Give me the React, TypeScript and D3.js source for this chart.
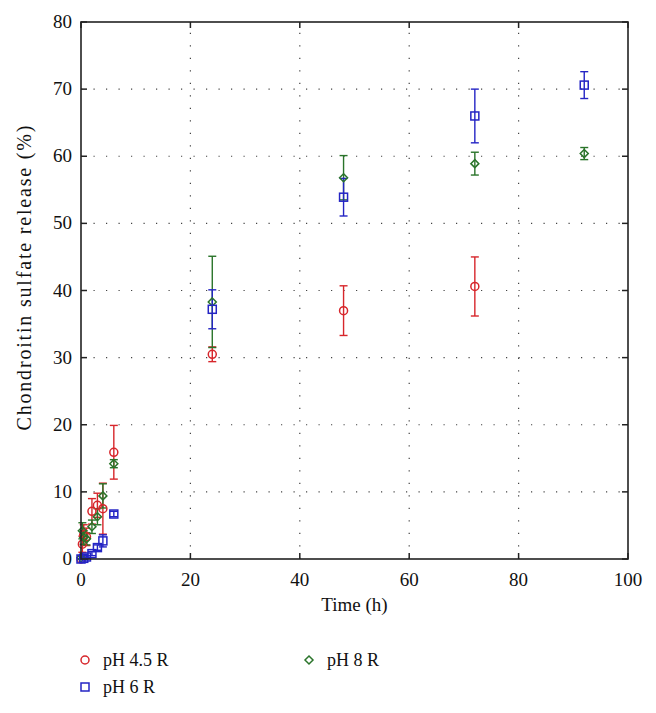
import React from "react";
import * as d3 from "d3";

const xTicks = [0, 20, 40, 60, 80, 100];
const yTicks = [0, 10, 20, 30, 40, 50, 60, 70, 80];

const timeRed = [0, 0.25, 0.5, 1, 2, 3, 4, 6, 24, 48, 72];
const valRed = [0, 2.2, 3.6, 3.3, 7.1, 8.0, 7.5, 15.9, 30.5, 37.0, 40.6];
const errRed = [0, 1.2, 1.5, 1.3, 1.9, 1.8, 3.8, 4.0, 1.1, 3.7, 4.4];

const timeBlue = [0, 0.5, 1, 2, 3, 4, 6, 24, 48, 72, 92];
const valBlue = [0, 0.1, 0.3, 0.8, 1.7, 2.7, 6.7, 37.2, 53.9, 66.0, 70.6];
const errBlue = [0, 0.1, 0.2, 0.3, 0.4, 0.9, 0.4, 2.9, 2.8, 4.0, 2.0];

const timeGreen = [0, 0.25, 0.5, 1, 2, 3, 4, 6, 24, 48, 72, 92];
const valGreen = [0.2, 4.2, 3.2, 3.0, 4.8, 6.3, 9.4, 14.2, 38.3, 56.8, 58.9, 60.4];
const errGreen = [0.2, 1.2, 1.0, 0.9, 1.0, 1.2, 1.8, 0.6, 6.8, 3.3, 1.7, 0.9];

const legendLabels = ["pH 4.5 R", "pH 6 R", "pH 8 R"];

const RED = "#d7262b";
const BLUE = "#2424c4";
const GREEN = "#2a742a";
const FONT = "'Liberation Serif', 'Times New Roman', serif";

export default function App() {
  const W = 656, H = 713;
  const left = 81, right = 628, top = 22, bottom = 559;
  const x = d3.scaleLinear().domain([0, 100]).range([left, right]);
  const y = d3.scaleLinear().domain([0, 80]).range([bottom, top]);
  const cap = 4;

  const errBars = (ts: number[], vs: number[], es: number[], color: string) =>
    ts.map((t, i) => {
      const cx = x(t);
      const y1 = y(vs[i] + es[i]);
      const y2 = y(Math.max(0, vs[i] - es[i]));
      return (
        <g key={i} stroke={color} strokeWidth={1.4}>
          <line x1={cx} x2={cx} y1={y1} y2={y2} />
          <line x1={cx - cap} x2={cx + cap} y1={y1} y2={y1} />
          <line x1={cx - cap} x2={cx + cap} y1={y2} y2={y2} />
        </g>
      );
    });

  const circle = (cx: number, cy: number, key: any) => (
    <circle key={key} cx={cx} cy={cy} r={4} fill="none" stroke={RED} strokeWidth={1.5} />
  );
  const square = (cx: number, cy: number, key: any) => (
    <rect key={key} x={cx - 4} y={cy - 4} width={8} height={8} fill="none" stroke={BLUE} strokeWidth={1.5} />
  );
  const diamond = (cx: number, cy: number, key: any) => (
    <path key={key} d={`M${cx},${cy - 4}L${cx + 4},${cy}L${cx},${cy + 4}L${cx - 4},${cy}Z`} fill="none" stroke={GREEN} strokeWidth={1.5} />
  );

  return (
    <svg width={W} height={H} style={{ position: "absolute", left: 0, top: 0, background: "#fff" }} fontFamily={FONT}>
      <rect width={W} height={H} fill="#fff" />
      {/* grid */}
      <g stroke="#444" strokeWidth={1.2} strokeDasharray="1.2 11.3">
        {xTicks.slice(1, -1).map((t) => (
          <line key={"gx" + t} x1={x(t)} x2={x(t)} y1={bottom} y2={top} />
        ))}
        {yTicks.slice(1, -1).map((t) => (
          <line key={"gy" + t} x1={left} x2={right} y1={y(t)} y2={y(t)} />
        ))}
      </g>
      {/* ticks */}
      <g stroke="#222" strokeWidth={1.5}>
        {xTicks.map((t) => (
          <g key={"tx" + t}>
            <line x1={x(t)} x2={x(t)} y1={bottom} y2={bottom - 6} />
            <line x1={x(t)} x2={x(t)} y1={top} y2={top + 6} />
          </g>
        ))}
        {yTicks.map((t) => (
          <g key={"ty" + t}>
            <line x1={left} x2={left + 6} y1={y(t)} y2={y(t)} />
            <line x1={right} x2={right - 6} y1={y(t)} y2={y(t)} />
          </g>
        ))}
      </g>
      {/* tick labels */}
      <g fontSize={19} fill="#111">
        {xTicks.map((t) => (
          <text key={"lx" + t} x={x(t)} y={586} textAnchor="middle">{t}</text>
        ))}
        {yTicks.map((t) => (
          <text key={"ly" + t} x={72} y={y(t) + 6} textAnchor="end">{t}</text>
        ))}
      </g>
      <text x={(left + right) / 2} y={611} textAnchor="middle" fontSize={19} fill="#111">Time (h)</text>
      <text transform={`translate(31,278) rotate(-90)`} textAnchor="middle" fontSize={20} fill="#111"
        textLength={305} lengthAdjust="spacing">
        Chondroitin sulfate release (%)
      </text>
      {/* data */}
      {errBars(timeRed, valRed, errRed, RED)}
      {errBars(timeGreen, valGreen, errGreen, GREEN)}
      {errBars(timeBlue, valBlue, errBlue, BLUE)}
      {timeRed.map((t, i) => circle(x(t), y(valRed[i]), "r" + i))}
      {timeGreen.map((t, i) => diamond(x(t), y(valGreen[i]), "g" + i))}
      {timeBlue.map((t, i) => square(x(t), y(valBlue[i]), "b" + i))}
      {/* frame */}
      <rect x={left} y={top} width={right - left} height={bottom - top} fill="none" stroke="#222" strokeWidth={1.6} />
      {/* legend */}
      <g fontSize={18} fill="#111">
        {circle(85, 660, "lr")}
        <text x={103} y={666}>{legendLabels[0]}</text>
        {square(85, 687, "lb")}
        <text x={103} y={693}>{legendLabels[1]}</text>
        {diamond(309, 660, "lg")}
        <text x={327} y={666}>{legendLabels[2]}</text>
      </g>
    </svg>
  );
}
